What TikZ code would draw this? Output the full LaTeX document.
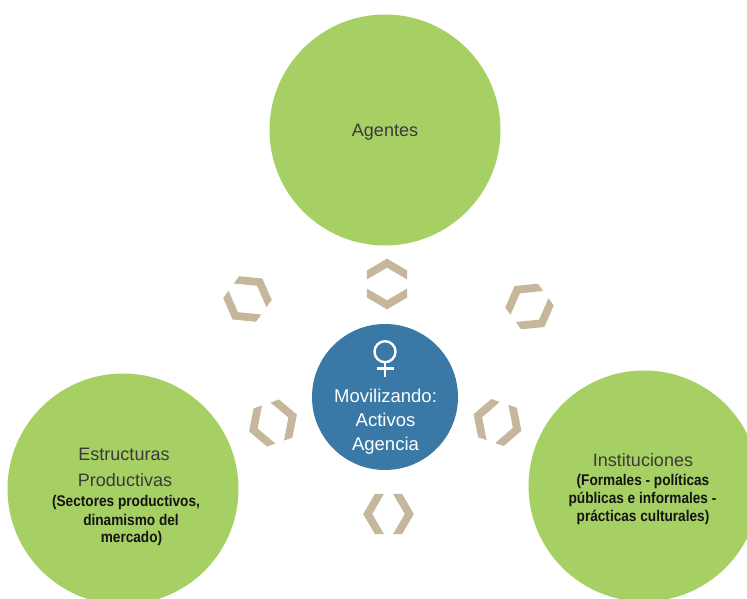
\documentclass[tikz,border=0pt]{standalone}
\usepackage{fontspec}
\setmainfont{Liberation Sans}
\newfontfamily\condfont[FakeStretch=0.88]{Liberation Sans}
\definecolor{cgreen}{HTML}{A6D064}
\definecolor{cblue}{HTML}{3A79A5}
\definecolor{ctan}{HTML}{C6B79C}
\definecolor{ctext}{HTML}{3A3A3A}
\definecolor{cdark}{HTML}{141414}
\tikzset{
  bigcirc/.style={circle, fill=cgreen, minimum size=231pt, inner sep=0pt},
  hubcirc/.style={circle, fill=cblue, minimum size=146pt, inner sep=0pt},
  lbl/.style={anchor=base, text=ctext, font=\fontsize{18}{22}\selectfont, inner sep=0pt},
  sublbl/.style={anchor=base, text=cdark, font=\condfont\bfseries\fontsize{15.5}{18}\selectfont, inner sep=0pt},
  hublbl/.style={anchor=base, text=white, font=\fontsize{18.5}{22}\selectfont, inner sep=0pt},
  venusline/.style={draw=white, line width=2.4pt},
  dchev/.pic={
    \fill[ctan] (25.3,0) -- (13.5,20.2) -- (4.5,20.2) -- (16.3,0) -- (4.5,-20.2) -- (13.5,-20.2) -- cycle;
    \fill[ctan] (-25.3,0) -- (-13.5,20.2) -- (-4.5,20.2) -- (-16.3,0) -- (-4.5,-20.2) -- (-13.5,-20.2) -- cycle;
  }
}
\begin{document}
\begin{tikzpicture}[x=1pt,y=1pt]
\useasboundingbox (0,0) rectangle (747,598);
% circles
\node[bigcirc] (agentes) at (385,468) {};
\node[bigcirc] (estructuras) at (123,109) {};
\node[bigcirc] (instituciones) at (644,112) {};
\node[hubcirc] (hub) at (385,201) {};
% double chevrons
\pic[rotate=90] at (387,314) {dchev};
\pic at (388.5,84) {dchev};
\pic[rotate=54] at (247.5,299) {dchev};
\pic[rotate=-54] at (529.5,291.5) {dchev};
\pic[rotate=19.4] at (273,175) {dchev};
\pic[rotate=-19] at (497.5,175.5) {dchev};
% texts
\node[lbl] (tAg) at (385,461.3) {Agentes};
\node[lbl] (tE1) at (124,138) {Estructuras};
\node[lbl] (tE2) at (125,112) {Productivas};
\node[sublbl] (tE3) at (126,91.5) {(Sectores productivos,};
\node[sublbl] (tE4) at (131,72.5) {dinamismo del};
\node[sublbl] (tE5) at (131.5,55.5) {mercado)};
\node[lbl] (tI1) at (643,132) {Instituciones};
\node[sublbl] (tI2) at (643,113) {(Formales - políticas};
\node[sublbl] (tI3) at (642.5,94.7) {públicas e informales -};
\node[sublbl] (tI4) at (643,76.3) {prácticas culturales)};
\node[hublbl] (tH1) at (385.5,195.3) {Movilizando:};
\node[hublbl] (tH2) at (385.5,171.3) {Activos};
\node[hublbl] (tH3) at (385.5,148) {Agencia};
% venus symbol
\node[circle, venusline, minimum size=21pt, inner sep=0pt] (venus) at (385,246.3) {};
\coordinate (venusend) at (385,221);
\draw[venusline] (venus.south) -- (venusend);
\coordinate (barl) at (376.5,229.7);
\coordinate (barr) at (393.5,229.7);
\draw[venusline] (barl) -- (barr);
\end{tikzpicture}
\end{document}
